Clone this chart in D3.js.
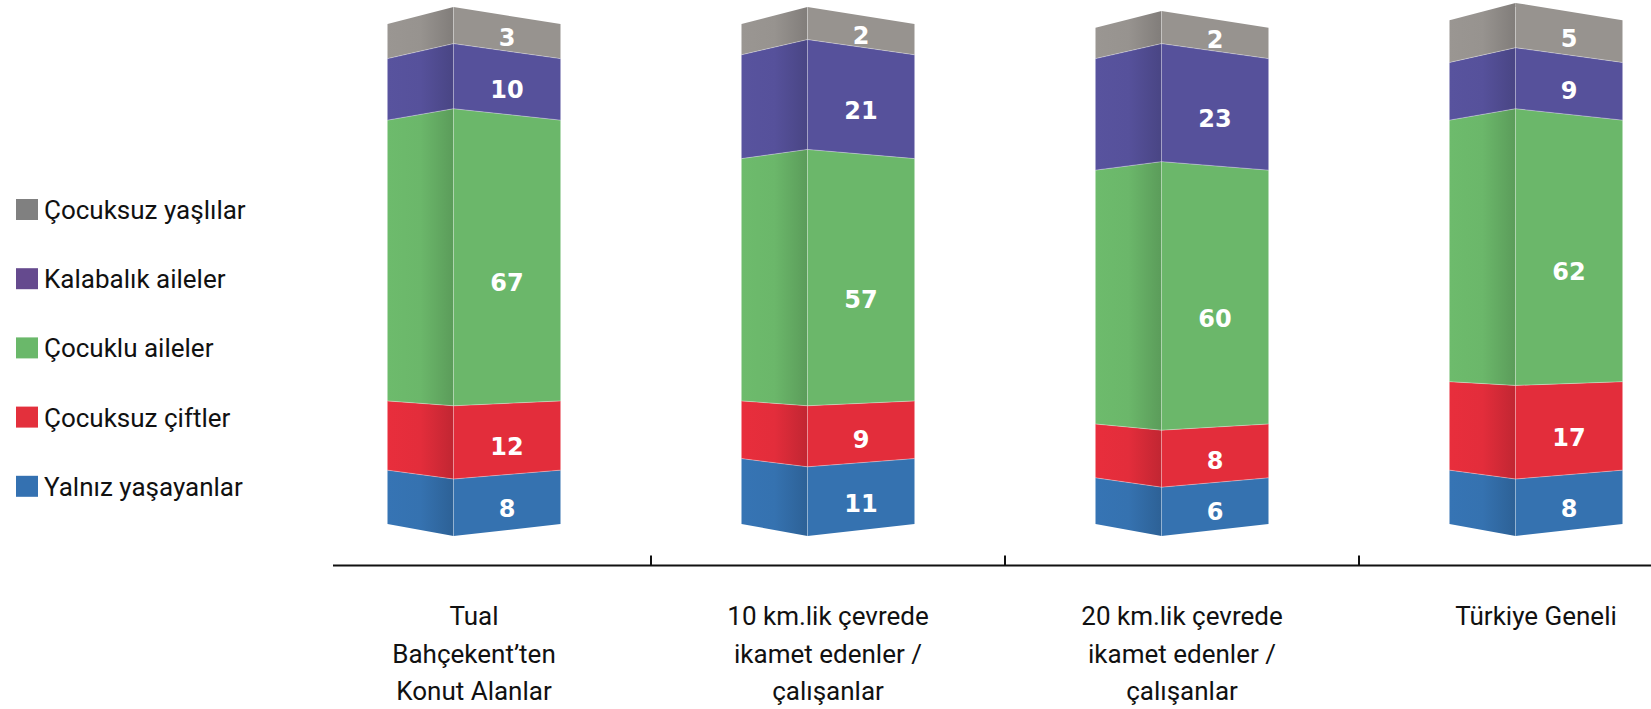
<!DOCTYPE html>
<html><head><meta charset="utf-8">
<script src="https://cdn.jsdelivr.net/npm/d3@7"></script>
<style>body{margin:0;background:#fff}svg{display:block}</style>
</head><body>
<svg id="c" width="1651" height="709"></svg>
<script>
const categories = [
  ["Tual", "Bahçekent’ten", "Konut Alanlar"],
  ["10 km.lik çevrede", "ikamet edenler /", "çalışanlar"],
  ["20 km.lik çevrede", "ikamet edenler /", "çalışanlar"],
  ["Türkiye Geneli"]
];
const seriesNames = ["Yalnız yaşayanlar", "Çocuksuz çiftler", "Çocuklu aileler", "Kalabalık aileler", "Çocuksuz yaşlılar"];
const yalnizYasayanlar = [8, 11, 6, 8];
const cocuksuzCiftler = [12, 9, 8, 17];
const cocukluAileler = [67, 57, 60, 62];
const kalabalikAileler = [10, 21, 23, 9];
const cocuksuzYaslilar = [3, 2, 2, 5];
const seriesValues = [yalnizYasayanlar, cocuksuzCiftler, cocukluAileler, kalabalikAileler, cocuksuzYaslilar];
const barColors = ["#3572b0", "#e32d3b", "#6bb76a", "#56519b", "#97938f"];
const legendColors = ["#3471b1", "#e3303c", "#6ab86a", "#654a8e", "#808080"];

const svg = d3.select("#c");
const defs = svg.append("defs");
const keys = categories.map((c, i) => "c" + i);

const x = d3.scaleBand().domain(keys).range([297, 297 + 354 * 4]).paddingInner(0).paddingOuter(0);
const halfW = 86.5, edgeOff = -20.5;

const base = 6;
const total = d3.sum(seriesValues, s => s[0]) + base * seriesValues.length;
const y = d3.scaleLinear().domain([0, total]).range([524, 24]);
const topOff = -17, botOff = 12;
const off = yy => topOff + (botOff - topOff) * (yy - 24) / 500;

barColors.forEach((col, i) => {
  const g = defs.append("linearGradient").attr("id", "lg" + i)
    .attr("x1", 0).attr("x2", 1).attr("y1", 0).attr("y2", 0);
  g.append("stop").attr("offset", 0).attr("stop-color", d3.color(col).brighter(0.06));
  g.append("stop").attr("offset", 0.5).attr("stop-color", col);
  g.append("stop").attr("offset", 1).attr("stop-color", d3.color(col).darker(0.45));
});

const bars = svg.append("g");
keys.forEach((k, ci) => {
  const cx = x(k) + x.bandwidth() / 2;
  const L = cx - halfW, E = cx + edgeOff, R = cx + halfW;
  let cum = 0;
  const g = bars.append("g");
  seriesValues.forEach((s, si) => {
    const v = s[ci];
    const y0 = y(cum), y1 = y(cum + v + base);
    cum += v + base;
    const leftPts = [[L, y1], [E, y1 + off(y1)], [E, y0 + off(y0)], [L, y0]];
    const rightPts = [[E, y1 + off(y1)], [R, y1], [R, y0], [E, y0 + off(y0)]];
    g.append("polygon").attr("points", leftPts.map(p => p.join(",")).join(" "))
      .attr("fill", `url(#lg${si})`);
    g.append("polygon").attr("points", rightPts.map(p => p.join(",")).join(" "))
      .attr("fill", barColors[si]);
    if (si > 0) {
      g.append("polyline").attr("points", [[L, y0], [E, y0 + off(y0)], [R, y0]].map(p => p.join(",")).join(" "))
        .attr("fill", "none").attr("stroke", "#fff").attr("stroke-opacity", 0.35).attr("stroke-width", 1);
    }
    const mid = ((y0 + off(y0) / 2) + (y1 + off(y1) / 2)) / 2;
    const ly = mid + 0.08 * (y0 - y1) + 2;
    g.append("text").attr("x", (E + R) / 2).attr("y", ly)
      .attr("text-anchor", "middle").attr("dominant-baseline", "central")
      .attr("font-family", "'DejaVu Sans', sans-serif").attr("font-weight", 700)
      .attr("font-size", 24).attr("fill", "#fff").text(v);
  });
  const yt = y(total), yb = y(0);
  g.append("line").attr("x1", E).attr("x2", E).attr("y1", yt + off(yt)).attr("y2", yb + off(yb))
    .attr("stroke", "#fff").attr("stroke-opacity", 0.3).attr("stroke-width", 1);
});

const axisY = 565.5;
svg.append("line").attr("x1", 333).attr("x2", 1651).attr("y1", axisY).attr("y2", axisY)
  .attr("stroke", "#111").attr("stroke-width", 2);
keys.slice(1).forEach(k => {
  svg.append("line").attr("x1", x(k)).attr("x2", x(k)).attr("y1", axisY).attr("y2", axisY - 10)
    .attr("stroke", "#111").attr("stroke-width", 2);
});
keys.forEach((k, ci) => {
  const cx = x(k) + x.bandwidth() / 2;
  const t = svg.append("text").attr("text-anchor", "middle")
    .attr("font-family", "Roboto, sans-serif").attr("font-size", 26).attr("fill", "#111");
  categories[ci].forEach((line, li) => {
    t.append("tspan").attr("x", cx).attr("y", 625 + li * 37.5).text(line);
  });
});

const legendOrder = d3.range(seriesNames.length).reverse();
legendOrder.forEach((si, i) => {
  const cy = 209.5 + i * 69.2;
  svg.append("rect").attr("x", 16).attr("y", cy - 10.5).attr("width", 22).attr("height", 21)
    .attr("fill", legendColors[si]);
  svg.append("text").attr("x", 44).attr("y", cy + 9.5)
    .attr("font-family", "Roboto, sans-serif").attr("font-size", 26).attr("fill", "#111")
    .text(seriesNames[si]);
});
</script>
</body></html>
